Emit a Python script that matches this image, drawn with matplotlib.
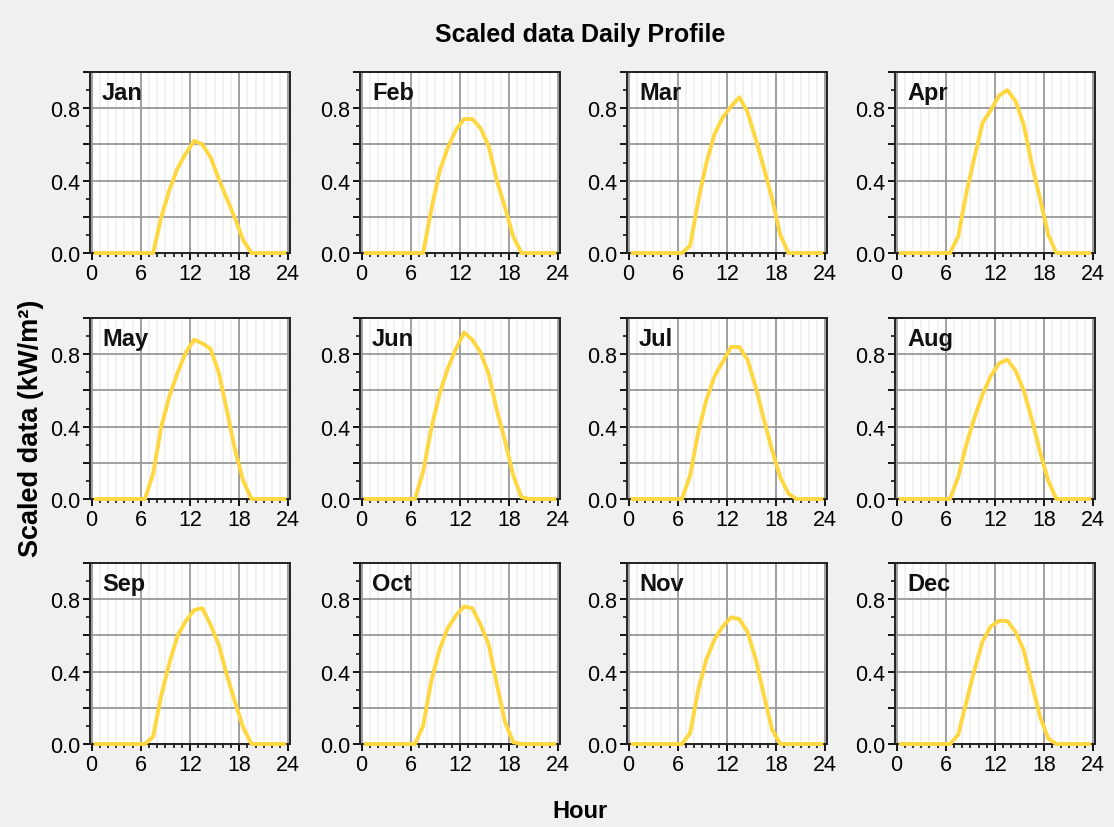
import numpy as np
import matplotlib
matplotlib.use("Agg")
from matplotlib import pyplot as plt
from matplotlib.ticker import FixedLocator

plt.rcParams['font.family'] = ['Liberation Sans', 'DejaVu Sans']

hours = np.arange(24) + 0.5
months = ['Jan', 'Feb', 'Mar', 'Apr', 'May', 'Jun',
          'Jul', 'Aug', 'Sep', 'Oct', 'Nov', 'Dec']

jan = [0, 0, 0, 0, 0, 0, 0, 0, 0.20, 0.35, 0.47, 0.55, 0.62, 0.60, 0.53, 0.41, 0.30, 0.19, 0.07, 0, 0, 0, 0, 0]
feb = [0, 0, 0, 0, 0, 0, 0, 0, 0.24, 0.45, 0.58, 0.68, 0.74, 0.74, 0.69, 0.59, 0.40, 0.25, 0.09, 0, 0, 0, 0, 0]
mar = [0, 0, 0, 0, 0, 0, 0, 0.04, 0.29, 0.50, 0.66, 0.75, 0.81, 0.86, 0.78, 0.63, 0.47, 0.30, 0.10, 0, 0, 0, 0, 0]
apr = [0, 0, 0, 0, 0, 0, 0, 0.09, 0.33, 0.53, 0.72, 0.79, 0.87, 0.90, 0.84, 0.71, 0.49, 0.30, 0.10, 0, 0, 0, 0, 0]
may = [0, 0, 0, 0, 0, 0, 0, 0.14, 0.40, 0.57, 0.70, 0.81, 0.88, 0.86, 0.83, 0.70, 0.49, 0.27, 0.10, 0, 0, 0, 0, 0]
jun = [0, 0, 0, 0, 0, 0, 0, 0.15, 0.39, 0.58, 0.72, 0.83, 0.92, 0.88, 0.81, 0.69, 0.49, 0.32, 0.13, 0.01, 0, 0, 0, 0]
jul = [0, 0, 0, 0, 0, 0, 0, 0.13, 0.37, 0.55, 0.68, 0.76, 0.84, 0.84, 0.77, 0.62, 0.44, 0.27, 0.12, 0.03, 0, 0, 0, 0]
aug = [0, 0, 0, 0, 0, 0, 0, 0.12, 0.30, 0.45, 0.58, 0.68, 0.75, 0.77, 0.71, 0.60, 0.44, 0.26, 0.10, 0, 0, 0, 0, 0]
sep = [0, 0, 0, 0, 0, 0, 0, 0.04, 0.27, 0.45, 0.60, 0.68, 0.74, 0.75, 0.66, 0.55, 0.38, 0.23, 0.09, 0, 0, 0, 0, 0]
oct_ = [0, 0, 0, 0, 0, 0, 0, 0.10, 0.35, 0.52, 0.64, 0.71, 0.76, 0.75, 0.66, 0.55, 0.33, 0.12, 0.01, 0, 0, 0, 0, 0]
nov = [0, 0, 0, 0, 0, 0, 0, 0.06, 0.30, 0.47, 0.58, 0.65, 0.70, 0.69, 0.62, 0.47, 0.27, 0.08, 0, 0, 0, 0, 0, 0]
dec = [0, 0, 0, 0, 0, 0, 0, 0.05, 0.23, 0.41, 0.57, 0.65, 0.68, 0.68, 0.62, 0.52, 0.33, 0.15, 0.03, 0, 0, 0, 0, 0]
profiles = [jan, feb, mar, apr, may, jun, jul, aug, sep, oct_, nov, dec]

W, H = 1114, 828
fig = plt.figure(figsize=(W / 100, H / 100), dpi=100, facecolor='#f0f0f0')

col_left = [90, 360, 627, 895]
row_top = [73, 319, 564]
aw, ah = 200, 181

x_minor = [h for h in range(25) if h % 6]
y_minor = [k / 10 for k in range(11) if k % 2]

for i, (name, vals) in enumerate(zip(months, profiles)):
    r, c = divmod(i, 4)
    ax = fig.add_axes([col_left[c] / W, 1 - (row_top[r] + ah) / H, aw / W, ah / H])
    ax.set_facecolor('white')
    ax.plot(hours, vals, color='#ffd740', lw=2.8, zorder=3, clip_on=False)
    ax.set_xlim(-0.2, 24.2)
    ax.set_ylim(0, 1.0)
    ax.set_xticks([0, 6, 12, 18, 24])
    ax.xaxis.set_minor_locator(FixedLocator(x_minor))
    ax.set_yticks([0, 0.2, 0.4, 0.6, 0.8, 1.0])
    ax.set_yticklabels(['0.0', '', '0.4', '', '0.8', ''])
    ax.yaxis.set_minor_locator(FixedLocator(y_minor))
    ax.grid(which='minor', axis='x', color='#efefef', lw=1.2, zorder=0)
    ax.grid(which='major', color='#999999', lw=1.3, zorder=1)
    ax.tick_params(which='major', direction='out', length=5, width=1.3, labelsize=15.5, pad=2, color='black')
    ax.tick_params(which='minor', direction='out', length=3, width=1.1, color='black')
    for s in ax.spines.values():
        s.set_color('#222222')
        s.set_linewidth(1.4)
    ax.text(0.06, 0.95, name, transform=ax.transAxes, fontsize=17, fontweight='bold',
            va='top', ha='left', color='#111111')

fig.text(580 / W, 1 - 35 / H, 'Scaled data Daily Profile', fontsize=18, fontweight='bold',
         ha='center', va='center')
fig.text(580 / W, 1 - 812 / H, 'Hour', fontsize=17, fontweight='bold', ha='center', va='center')
fig.text(31 / W, 1 - 428 / H, 'Scaled data (kW/m²)', fontsize=19.5, fontweight='bold',
         rotation=90, ha='center', va='center')

fig.savefig('out.png', dpi=100, facecolor=fig.get_facecolor())
